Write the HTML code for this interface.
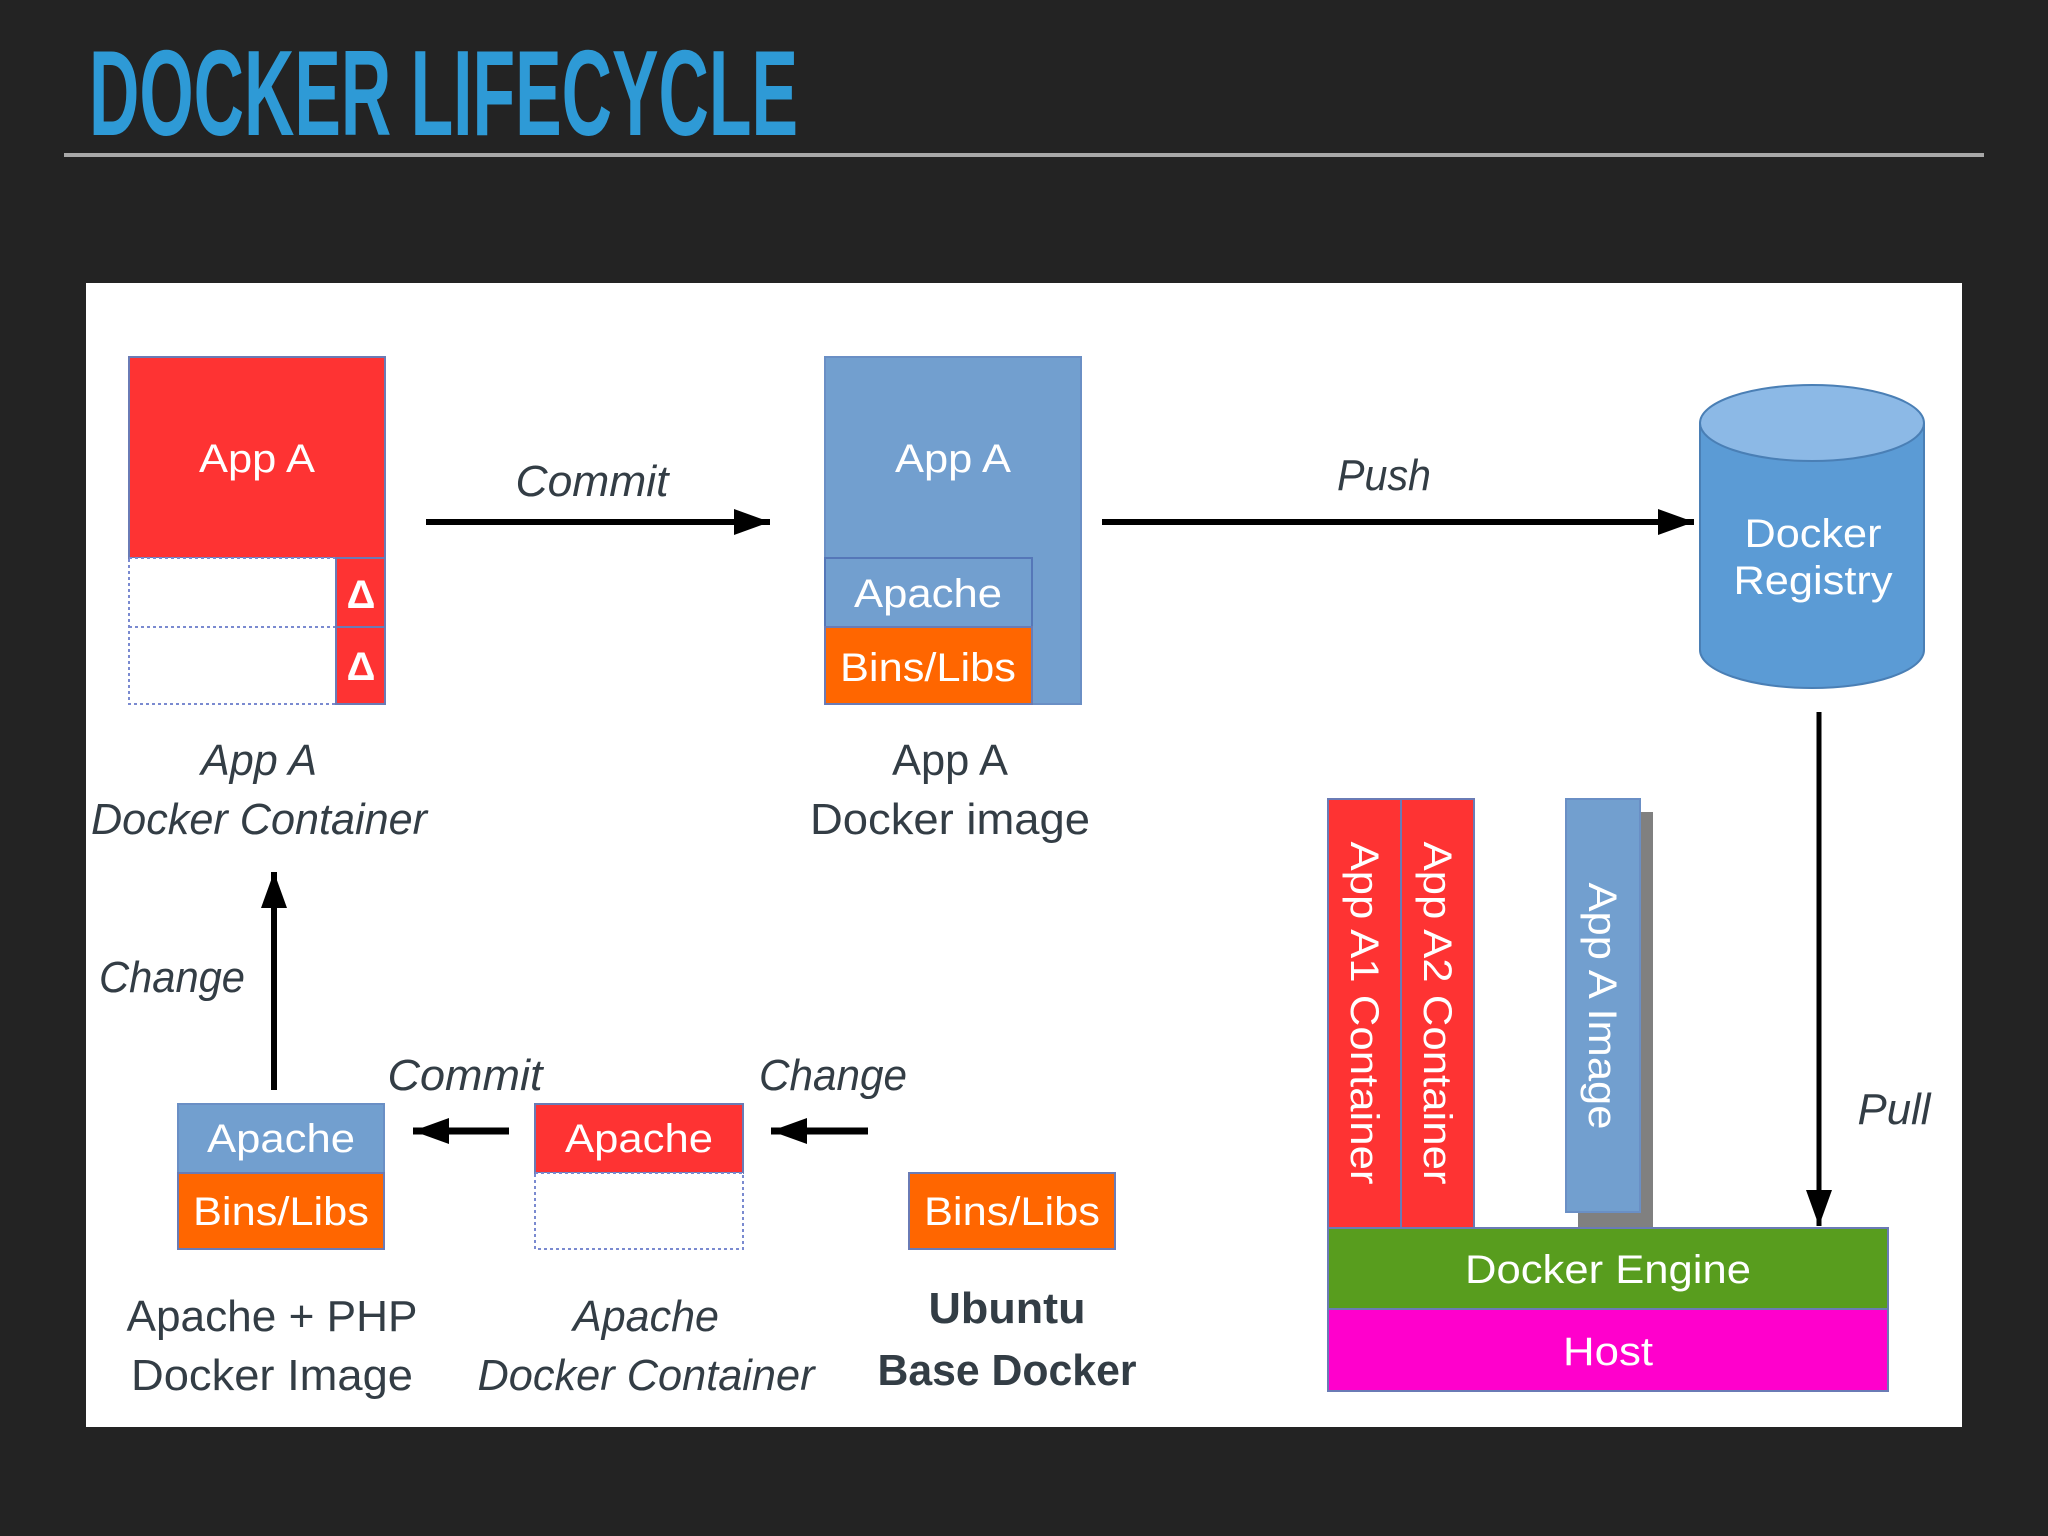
<!DOCTYPE html>
<html><head><meta charset="utf-8"><style>
html,body{margin:0;padding:0;background:#232323;}
svg{display:block;}
.lb{font-family:"Liberation Sans",sans-serif;fill:#333d45;font-size:44px;}
.bx{font-family:"Liberation Sans",sans-serif;fill:#fff;font-size:40px;}
</style></head><body>
<svg width="2048" height="1536" viewBox="0 0 2048 1536" xmlns="http://www.w3.org/2000/svg">
<defs>
<marker id="ah" markerWidth="36" markerHeight="26" refX="10" refY="5" orient="auto" markerUnits="userSpaceOnUse" viewBox="0 0 10 10" preserveAspectRatio="none"><path d="M0,0 L10,5 L0,10 z" fill="#000"/></marker>
</defs>
<rect width="2048" height="1536" fill="#232323"/>
<text x="89" y="135" font-family="'Liberation Sans Narrow','Liberation Sans',sans-serif" font-weight="bold" font-size="122" fill="#2e9ad6" textLength="709" lengthAdjust="spacingAndGlyphs">DOCKER LIFECYCLE</text>
<rect x="64" y="153" width="1920" height="4" fill="#a8a8a8"/>
<rect x="86" y="283" width="1876" height="1144" fill="#fff"/>

<rect x="129" y="357" width="256" height="201" fill="#fe3333" stroke="#6a7bb5" stroke-width="2"/>
<text class="bx" x="257" y="472" text-anchor="middle" textLength="116" lengthAdjust="spacingAndGlyphs">App A</text>
<rect x="129" y="558" width="207" height="146" fill="#fff" stroke="#7a8ad0" stroke-width="2" stroke-dasharray="3,3"/>
<line x1="129" y1="627" x2="336" y2="627" stroke="#7a8ad0" stroke-width="2" stroke-dasharray="3,3"/>
<rect x="336" y="558" width="49" height="69" fill="#fe3333" stroke="#6a7bb5" stroke-width="2"/>
<rect x="336" y="627" width="49" height="77" fill="#fe3333" stroke="#6a7bb5" stroke-width="2"/>
<text class="bx" x="361" y="608" text-anchor="middle" font-size="44" font-weight="bold">Δ</text>
<text class="bx" x="361" y="680" text-anchor="middle" font-size="44" font-weight="bold">Δ</text>
<text class="lb" x="259" y="775" text-anchor="middle" font-style="italic" textLength="116" lengthAdjust="spacingAndGlyphs">App A</text>
<text class="lb" x="259" y="834" text-anchor="middle" font-style="italic" textLength="336" lengthAdjust="spacingAndGlyphs">Docker Container</text>

<line x1="426" y1="522" x2="770" y2="522" stroke="#000" stroke-width="6" marker-end="url(#ah)"/>
<text class="lb" x="592" y="496" text-anchor="middle" font-style="italic" textLength="153" lengthAdjust="spacingAndGlyphs">Commit</text>

<rect x="825" y="357" width="256" height="347" fill="#729fcf" stroke="#6a8fc5" stroke-width="2"/>
<text class="bx" x="953" y="472" text-anchor="middle" textLength="116" lengthAdjust="spacingAndGlyphs">App A</text>
<rect x="825" y="558" width="207" height="69" fill="#729fcf" stroke="#5577b8" stroke-width="2"/>
<text class="bx" x="928" y="607" text-anchor="middle" textLength="148" lengthAdjust="spacingAndGlyphs">Apache</text>
<rect x="825" y="627" width="207" height="77" fill="#ff6600" stroke="#6a7bb5" stroke-width="2"/>
<text class="bx" x="928" y="681" text-anchor="middle" textLength="176" lengthAdjust="spacingAndGlyphs">Bins/Libs</text>
<text class="lb" x="950" y="775" text-anchor="middle" textLength="116" lengthAdjust="spacingAndGlyphs">App A</text>
<text class="lb" x="950" y="834" text-anchor="middle" textLength="280" lengthAdjust="spacingAndGlyphs">Docker image</text>

<line x1="1102" y1="522" x2="1694" y2="522" stroke="#000" stroke-width="6" marker-end="url(#ah)"/>
<text class="lb" x="1384" y="490" text-anchor="middle" font-style="italic" textLength="94" lengthAdjust="spacingAndGlyphs">Push</text>

<path d="M1700,423 L1700,650 A112,38 0 0 0 1924,650 L1924,423" fill="#5b9bd5" stroke="#4a7fb5" stroke-width="2"/>
<ellipse cx="1812" cy="423" rx="112" ry="38" fill="#8cb9e6" stroke="#4a7fb5" stroke-width="2"/>
<text class="bx" x="1813" y="547" text-anchor="middle" textLength="137" lengthAdjust="spacingAndGlyphs">Docker</text>
<text class="bx" x="1813" y="594" text-anchor="middle" textLength="159" lengthAdjust="spacingAndGlyphs">Registry</text>

<line x1="1819" y1="712" x2="1819" y2="1226" stroke="#000" stroke-width="5" marker-end="url(#ah)"/>
<text class="lb" x="1894" y="1124" text-anchor="middle" font-style="italic" textLength="73" lengthAdjust="spacingAndGlyphs">Pull</text>

<rect x="1328" y="799" width="73" height="429" fill="#fe3333" stroke="#6a7bb5" stroke-width="2"/>
<rect x="1401" y="799" width="73" height="429" fill="#fe3333" stroke="#6a7bb5" stroke-width="2"/>
<rect x="1578" y="812" width="75" height="416" fill="#808080"/>
<rect x="1566" y="799" width="74" height="413" fill="#729fcf" stroke="#6a8fc5" stroke-width="2"/>
<text class="bx" transform="translate(1351,1013) rotate(90)" text-anchor="middle" textLength="343" lengthAdjust="spacingAndGlyphs">App A1 Container</text>
<text class="bx" transform="translate(1424,1013) rotate(90)" text-anchor="middle" textLength="343" lengthAdjust="spacingAndGlyphs">App A2 Container</text>
<text class="bx" transform="translate(1589,1006) rotate(90)" text-anchor="middle" textLength="247" lengthAdjust="spacingAndGlyphs">App A Image</text>
<rect x="1328" y="1228" width="560" height="81" fill="#589d1e" stroke="#6a7bb5" stroke-width="2"/>
<text class="bx" x="1608" y="1283" text-anchor="middle" textLength="286" lengthAdjust="spacingAndGlyphs">Docker Engine</text>
<rect x="1328" y="1309" width="560" height="82" fill="#ff00cc" stroke="#6a7bb5" stroke-width="2"/>
<text class="bx" x="1608" y="1365" text-anchor="middle" textLength="90" lengthAdjust="spacingAndGlyphs">Host</text>

<line x1="274" y1="1090" x2="274" y2="872" stroke="#000" stroke-width="6" marker-end="url(#ah)"/>
<text class="lb" x="172" y="992" text-anchor="middle" font-style="italic" textLength="146" lengthAdjust="spacingAndGlyphs">Change</text>

<rect x="178" y="1104" width="206" height="69" fill="#729fcf" stroke="#6a8fc5" stroke-width="2"/>
<text class="bx" x="281" y="1152" text-anchor="middle" textLength="148" lengthAdjust="spacingAndGlyphs">Apache</text>
<rect x="178" y="1173" width="206" height="76" fill="#ff6600" stroke="#6a7bb5" stroke-width="2"/>
<text class="bx" x="281" y="1225" text-anchor="middle" textLength="176" lengthAdjust="spacingAndGlyphs">Bins/Libs</text>
<text class="lb" x="272" y="1331" text-anchor="middle" textLength="291" lengthAdjust="spacingAndGlyphs">Apache + PHP</text>
<text class="lb" x="272" y="1390" text-anchor="middle" textLength="282" lengthAdjust="spacingAndGlyphs">Docker Image</text>

<line x1="509" y1="1131" x2="413" y2="1131" stroke="#000" stroke-width="7" marker-end="url(#ah)"/>
<text class="lb" x="465" y="1090" text-anchor="middle" font-style="italic" textLength="155" lengthAdjust="spacingAndGlyphs">Commit</text>

<rect x="535" y="1104" width="208" height="69" fill="#fe3333" stroke="#6a7bb5" stroke-width="2"/>
<text class="bx" x="639" y="1152" text-anchor="middle" textLength="148" lengthAdjust="spacingAndGlyphs">Apache</text>
<rect x="535" y="1173" width="208" height="76" fill="#fff" stroke="#7a8ad0" stroke-width="2" stroke-dasharray="3,3"/>
<text class="lb" x="646" y="1331" text-anchor="middle" font-style="italic" textLength="146" lengthAdjust="spacingAndGlyphs">Apache</text>
<text class="lb" x="646" y="1390" text-anchor="middle" font-style="italic" textLength="337" lengthAdjust="spacingAndGlyphs">Docker Container</text>

<line x1="868" y1="1131" x2="771" y2="1131" stroke="#000" stroke-width="7" marker-end="url(#ah)"/>
<text class="lb" x="833" y="1090" text-anchor="middle" font-style="italic" textLength="148" lengthAdjust="spacingAndGlyphs">Change</text>

<rect x="909" y="1173" width="206" height="76" fill="#ff6600" stroke="#6a7bb5" stroke-width="2"/>
<text class="bx" x="1012" y="1225" text-anchor="middle" textLength="176" lengthAdjust="spacingAndGlyphs">Bins/Libs</text>
<text class="lb" x="1007" y="1323" text-anchor="middle" font-weight="bold" textLength="157" lengthAdjust="spacingAndGlyphs">Ubuntu</text>
<text class="lb" x="1007" y="1385" text-anchor="middle" font-weight="bold" textLength="259" lengthAdjust="spacingAndGlyphs">Base Docker</text>
</svg>
</body></html>
